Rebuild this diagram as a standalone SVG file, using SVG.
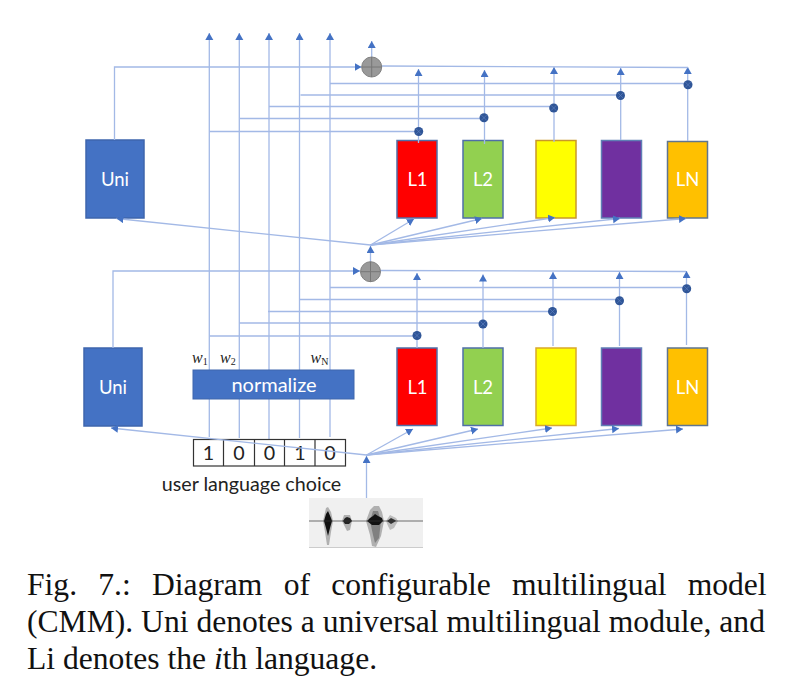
<svg xmlns="http://www.w3.org/2000/svg" xmlns:xlink="http://www.w3.org/1999/xlink" width="788" height="690" viewBox="0 0 788 690">
<style>
.b{stroke-width:1.5}
.t{font-family:Lato,"Liberation Sans",sans-serif;fill:#fff;font-size:18.500px;text-anchor:middle}
.c{fill:none;stroke:#a3b9e6;stroke-width:1.3}
.c path{marker-end:url(#a)}
.h{fill:none;stroke:#a3b9e6;stroke-width:1.3}
.d{font-family:Lato,"Liberation Sans",sans-serif;fill:#222;font-size:19.700px;text-anchor:middle}
.w{font-family:"Liberation Serif",serif;font-style:italic;fill:#222;font-size:16px}
.w tspan{font-size:10px;font-style:normal}
.f{font-family:"Liberation Serif",serif;fill:#111;font-size:31.600px}
</style>
<defs>
<marker id="a" markerUnits="userSpaceOnUse" markerWidth="9" markerHeight="9" refX="7" refY="4" orient="auto"><path d="M0 0L7 4L0 8Z" fill="#4472c4"/></marker>
<g id="dot"><circle r="4.5" fill="#2f5597"/><path d="M-2.6-2.6L2.6 2.6M-2.6 2.6L2.6-2.6" stroke="#5a7cbd" stroke-width=".7"/></g>
<g id="plus"><circle r="10" fill="#999" stroke="#808080"/><path d="M-10 0H10M0-10V10" stroke="#777" stroke-width="1"/></g>
</defs>
<rect width="788" height="690" fill="#fff"/>

<g id="uni-top"><rect class="b" x="86" y="140" width="58" height="78" fill="#4472c4" stroke="#3e66ad"/><text class="t" x="115" y="186">Uni</text></g>
<g id="l1-top"><rect class="b" x="397" y="140.500" width="40" height="77.500" fill="#f00" stroke="#4f6fa8"/><text class="t" x="417.500" y="186">L1</text></g>
<g id="l2-top"><rect class="b" x="463" y="140.500" width="40" height="77.500" fill="#92d050" stroke="#4f6fa8"/><text class="t" x="483" y="186">L2</text></g>
<g id="l3-top"><rect class="b" x="536" y="140.500" width="40" height="77.500" fill="#ff0" stroke="#c9982a"/></g>
<g id="l4-top"><rect class="b" x="601.500" y="140.500" width="40" height="77.500" fill="#7030a0" stroke="#5f7fb5"/></g>
<g id="ln-top"><rect class="b" x="667.500" y="141.500" width="40" height="76.500" fill="#ffc000" stroke="#5f7590"/><text class="t" x="687.500" y="186">LN</text></g>

<g id="uni-bottom"><rect class="b" x="84" y="348" width="58" height="78" fill="#4472c4" stroke="#3e66ad"/><text class="t" x="113" y="393.500">Uni</text></g>
<g id="l1-bottom"><rect class="b" x="397" y="348" width="40" height="77.500" fill="#f00" stroke="#4f6fa8"/><text class="t" x="417.500" y="393.500">L1</text></g>
<g id="l2-bottom"><rect class="b" x="463" y="348" width="40" height="77.500" fill="#92d050" stroke="#4f6fa8"/><text class="t" x="483" y="393.500">L2</text></g>
<g id="l3-bottom"><rect class="b" x="536" y="348" width="40" height="77.500" fill="#ff0" stroke="#d9a92a"/></g>
<g id="l4-bottom"><rect class="b" x="601.500" y="348" width="40" height="77.500" fill="#7030a0" stroke="#5f7fb5"/></g>
<g id="ln-bottom"><rect class="b" x="667.500" y="348" width="40" height="77.500" fill="#ffc000" stroke="#5f7590"/><text class="t" x="687.500" y="393.500">LN</text></g>

<g id="connectors">
<g class="c">
<path d="M209.300 437V33"/><path d="M239.300 438V33"/><path d="M269 439V33"/><path d="M299.500 438V33"/><path d="M330 437V33"/>
<path d="M114.500 140V67H361.500"/>
<path d="M371.700 57V41"/>
<path d="M418.500 143V69"/><path d="M484.500 144V70"/><path d="M554 142V67"/><path d="M620.700 140V68"/><path d="M687.700 141V67"/>
<path d="M370.500 245L116.500 218.500"/><path d="M370.500 245L414 219"/><path d="M370.500 245L482 218.500"/><path d="M370.500 245L555 217.500"/><path d="M370.500 245L620 218.500"/><path d="M370.500 245L686 218.500"/>
<path d="M370.500 262V246"/>
<path d="M113 348V271H360"/>
<path d="M417 348V273"/><path d="M483 348V274.500"/><path d="M553 346V272"/><path d="M619.500 346V272"/><path d="M686.500 345V271"/>
</g>
<g class="h">
<path d="M381.500 66L688 67.500"/>
<path d="M330 83.500H688"/><path d="M300.500 95H620.500"/><path d="M269 106.500H553.500"/><path d="M240 118.500H484"/><path d="M209.500 131.500H419"/>
<path d="M380 270.500L686 271.500"/>
<path d="M330 287.500H686.500"/><path d="M299.500 299.500H619.500"/><path d="M268 311.500H552.500"/><path d="M239 323H483"/><path d="M209.500 336H417"/>
</g>
</g>

<g id="vector">
<rect x="193.500" y="439.500" width="152" height="26.500" fill="#fff" stroke="#333" stroke-width="1.2"/>
<path d="M223.500 439.500V466M254.500 439.500V466M284.500 439.500V466M315 439.500V466" stroke="#333" stroke-width="1.2"/>
<text class="d" x="208.500" y="460">1</text><text class="d" x="239" y="460">0</text><text class="d" x="269.500" y="460">0</text><text class="d" x="300" y="460">1</text><text class="d" x="330" y="460">0</text>
</g>
<g id="connectors-input" class="c">
<path d="M366.500 455L111 428"/><path d="M366.500 455L413 429"/><path d="M366.500 455L478 429"/><path d="M366.500 455L552 428"/><path d="M366.500 455L619 428.500"/><path d="M366.500 455L683 429"/>
<path d="M366.500 498V456"/>
</g>

<g id="normalize"><rect x="193" y="370" width="161" height="29" fill="#4472c4" stroke="#3e66ad"/><text class="t" x="274" y="391.500" style="font-size:20px">normalize</text></g>
<g id="labels"><text class="w" x="192" y="363">w<tspan dy="2">1</tspan></text><text class="w" x="220" y="363">w<tspan dy="2">2</tspan></text><text class="w" x="310.500" y="363">w<tspan dy="2" font-style="italic">N</tspan></text></g>
<g id="mult-top"><use xlink:href="#dot" href="#dot" x="418.700" y="131.500"/><use xlink:href="#dot" href="#dot" x="484" y="117.700"/><use xlink:href="#dot" href="#dot" x="553.700" y="108"/><use xlink:href="#dot" href="#dot" x="620.500" y="95.500"/><use xlink:href="#dot" href="#dot" x="688" y="84.700"/></g>
<g id="mult-bottom"><use xlink:href="#dot" href="#dot" x="417" y="335.500"/><use xlink:href="#dot" href="#dot" x="483" y="324"/><use xlink:href="#dot" href="#dot" x="552.500" y="311.500"/><use xlink:href="#dot" href="#dot" x="619.500" y="300.700"/><use xlink:href="#dot" href="#dot" x="686.700" y="288.700"/></g>
<g id="sum-top"><use xlink:href="#plus" href="#plus" x="371.700" y="67"/></g>
<g id="sum-bottom"><use xlink:href="#plus" href="#plus" x="370.500" y="271.700"/></g>

<text id="choice" class="d" x="251.500" y="491">user language choice</text>
<g id="waveform">
<rect x="309" y="498" width="114" height="50" fill="#f0f0f0"/>
<path d="M309 547.500H423" stroke="#ccc"/>
<path d="M323 521L326 508L328 507L331 512L333 521L331 532L329 545L327 545L325 532Z" fill="#b0b0b0"/>
<path d="M342 521L344 515L350 515L352 521L350 530L347 531L345 527Z" fill="#b0b0b0"/>
<path d="M366 521L370 510L374 506L379 506L382 512L384 521L381 536L376 547L372 546L370 535Z" fill="#b0b0b0"/>
<path d="M386 521L390 515L396 518L398 521L394 528L390 530L388 526Z" fill="#bdbdbd"/>
<path d="M370 521L373 511L378 511L381 521L379 538L375 543L373 535Z" fill="#808080"/>
<path d="M324 521L326 514L328 511L331 518L332 521L330 528L328 536L326 528Z" fill="#111"/>
<path d="M343 521L345 518L347 517L350 518L352 521L349 524L345 524Z" fill="#222"/>
<path d="M367 521L370 518L373 516L375 514L378 516L382 518L383 521L379 525L372 525Z" fill="#111"/>
<path d="M387 521L391 518L395 520L396 521L391 524Z" fill="#333"/>
<path d="M309 521H423" stroke="#333" stroke-width=".7"/>
</g>

<g id="caption" class="f">
<text x="27" y="594.500" word-spacing="13.300">Fig. 7.: Diagram of configurable multilingual model</text>
<text x="27" y="631.500">(CMM). Uni denotes a universal multilingual module, and</text>
<text x="27" y="668.500">Li denotes the <tspan font-style="italic">i</tspan>th language.</text>
</g>
</svg>
